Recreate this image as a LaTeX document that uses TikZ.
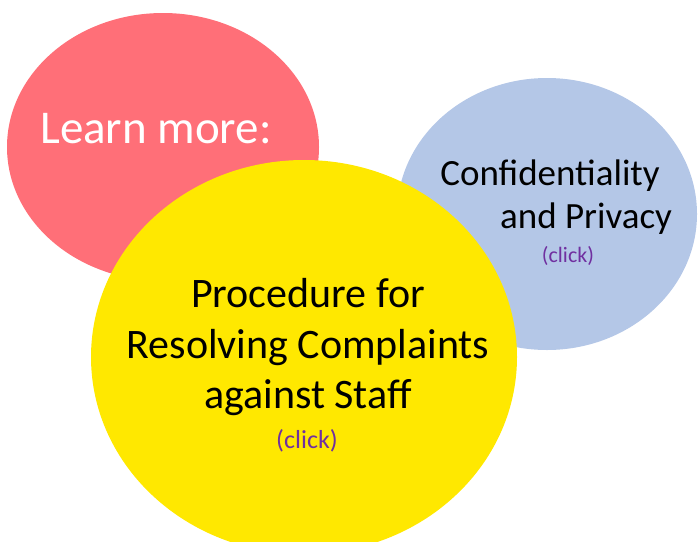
\documentclass[tikz,border=0pt]{standalone}
\usepackage{fontspec}
\setmainfont{Carlito}
\usetikzlibrary{positioning}

\definecolor{bubblered}{HTML}{FF6F78}
\definecolor{bubbleblue}{HTML}{B4C7E7}
\definecolor{bubbleyellow}{HTML}{FFE800}
\definecolor{clickpurple}{HTML}{7030A0}

\begin{document}
\begin{tikzpicture}[x=1pt,y=-1pt,
		bigtext/.style={anchor=base,inner sep=0pt,font=\fontsize{42}{42}\selectfont},
		clicktext/.style={anchor=base,inner sep=0pt,text=clickpurple}]
			
			\useasboundingbox (0,0) rectangle (698,541);
			\clip (0,0) rectangle (698,541);
			
			% bubbles, back to front
			\fill[bubblered] (163,147) ellipse [x radius=156, y radius=134];
			\fill[bubbleblue] (547,214) ellipse [x radius=150, y radius=136];
			\fill[bubbleyellow] (304,357) ellipse [x radius=213, y radius=197];
			
			\node[anchor=base,inner sep=0pt,text=white,font=\fontsize{47}{47}\selectfont] (learn) at (156,143) {Learn more:};
			
			\node[anchor=base,inner sep=0pt,font=\fontsize{37}{37}\selectfont] (conf) at (550,185) {Confidentiality};
			\node[anchor=base,inner sep=0pt,font=\fontsize{37}{37}\selectfont] (priv) at (586,228) {and Privacy};
			\node[clicktext,font=\fontsize{22}{22}\selectfont] (confclick) at (568,262) {(click)};
			
			\foreach \y/\txt [count=\i] in {
				307/{Procedure for},
				358/{Resolving Complaints},
				408/{against Staff}
			}
			{
				\node[bigtext] (proc\i) at (308,\y) {\txt};
			}
			\node[clicktext,font=\fontsize{26}{26}\selectfont] (procclick) at (307,448) {(click)};
			
		\end{tikzpicture}
\end{document}
